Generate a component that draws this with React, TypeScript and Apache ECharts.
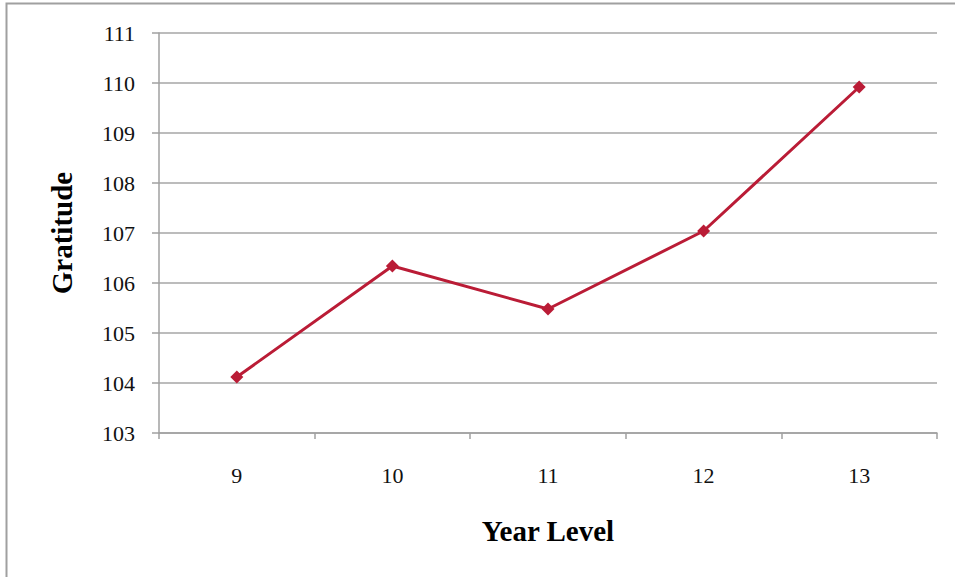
import React, { useEffect, useRef } from "react";
import * as echarts from "echarts";

const categories = ["9", "10", "11", "12", "13"];
const gratitude = [104.12, 106.34, 105.48, 107.04, 109.92];
const yMin = 103;
const yMax = 111;

export default function App() {
  const ref = useRef<HTMLDivElement>(null);
  useEffect(() => {
    if (!ref.current) return;
    const chart = echarts.init(ref.current, null, { renderer: "svg" });
    const font = "'Liberation Serif', 'DejaVu Serif', serif";
    chart.setOption({
      animation: false,
      textStyle: { fontFamily: font },
      graphic: [
        {
          type: "rect",
          shape: { x: 6.5, y: 3.5, width: 1000, height: 1000 },
          style: { fill: "none", stroke: "#a0a0a0", lineWidth: 2 },
          silent: true,
        },
      ],
      grid: { left: 159, top: 33, right: 18, bottom: 144 },
      xAxis: {
        type: "category",
        data: categories,
        boundaryGap: true,
        name: "Year Level",
        nameLocation: "middle",
        nameGap: 83,
        nameTextStyle: { fontFamily: font, fontSize: 29, fontWeight: "bold", color: "#000" },
        axisLine: { lineStyle: { color: "#a0a0a0", width: 1.5 } },
        axisTick: { show: true, length: 6, inside: false, lineStyle: { color: "#a0a0a0", width: 1.5 } },
        axisLabel: { fontFamily: font, fontSize: 22, color: "#111", margin: 31 },
      },
      yAxis: {
        type: "value",
        min: yMin,
        max: yMax,
        interval: 1,
        name: "Gratitude",
        nameLocation: "middle",
        nameRotate: 90,
        nameGap: 83,
        nameTextStyle: { fontFamily: font, fontSize: 29, fontWeight: "bold", color: "#000" },
        axisLine: { show: true, lineStyle: { color: "#a0a0a0", width: 1.5 } },
        axisTick: { show: true, length: 7, lineStyle: { color: "#a0a0a0", width: 1.5 } },
        axisLabel: { fontFamily: font, fontSize: 22, color: "#111", margin: 24 },
        splitLine: { show: true, lineStyle: { color: "#a6a6a6", width: 1.5 } },
      },
      series: [
        {
          type: "line",
          data: gratitude,
          symbol: "diamond",
          symbolSize: 13,
          itemStyle: { color: "#BA1C36" },
          lineStyle: { color: "#BA1C36", width: 3 },
        },
      ],
    });
    return () => chart.dispose();
  }, []);
  return (
    <div
      ref={ref}
      style={{ position: "absolute", left: 0, top: 0, width: 955, height: 577, background: "#fff" }}
    />
  );
}
